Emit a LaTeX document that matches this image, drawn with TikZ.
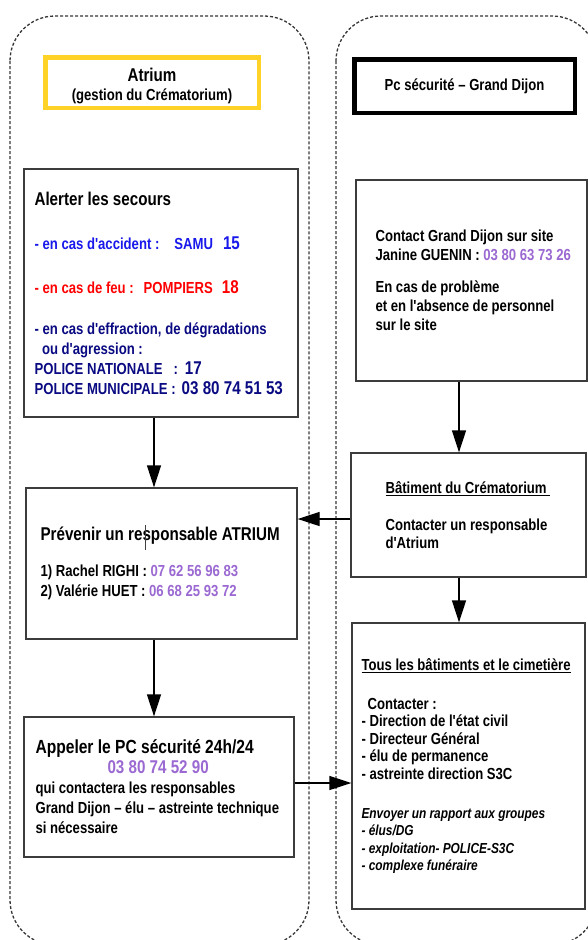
\documentclass[tikz,border=0pt]{standalone}
\usepackage{fontspec}
\setmainfont{Liberation Sans}[FakeStretch=0.82, Ligatures=TeXOff]
\usetikzlibrary{arrows.meta}
\definecolor{blu}{RGB}{25,25,235}
\definecolor{nav}{RGB}{10,10,130}
\definecolor{pur}{RGB}{155,105,210}
\definecolor{yel}{RGB}{255,210,40}
\definecolor{bord}{RGB}{60,60,60}
\definecolor{dsh}{RGB}{55,55,55}
\newcommand{\fsz}[2]{\fontsize{#1}{#2}\selectfont}
\begin{document}
\begin{tikzpicture}[x=1pt,y=-1pt,
  container/.style={draw=dsh, line width=1.3pt, dash pattern=on 3pt off 2pt, rounded corners=45pt},
  box/.style={draw=bord, line width=1.3pt, inner sep=0pt, fill=white},
  txt/.style={inner sep=0pt, align=left, anchor=west, font=\bfseries\fsz{16}{20}},
  arr/.style={line width=1.3pt, draw=black, -{Triangle[length=22pt,width=14pt]}}]
\useasboundingbox (0,0) rectangle (588,940);
\clip (0,0) rectangle (588,940);
\fill[white] (0,0) rectangle (588,940);
\draw[container] (10,16) rectangle (309,945);
\draw[container] (336,16) rectangle (597,945);

% header boxes
\node[draw=yel, line width=4.5pt, minimum width=213.5pt, minimum height=50.5pt, inner sep=0pt] (atrium) at (152,82.5) {};
\node[inner sep=0pt, align=center, font=\bfseries\fsz{18.5}{20}] (tatrium) at ([yshift=-3pt]atrium.center)
      {Atrium\\[-1pt]{\fsz{16}{20}(gestion du Crématorium)}};
\node[draw=black, line width=4.5pt, minimum width=220.5pt, minimum height=53.5pt, inner sep=0pt,
      font=\bfseries\fsz{16}{20}] (pc) at (464.5,86) {Pc sécurité – Grand Dijon};

% boxes
\node[box, minimum width=274pt, minimum height=248pt] (alert) at (161,293) {};
\node[box, minimum width=231pt, minimum height=201pt] (contact) at (471.5,280.5) {};
\node[box, minimum width=271pt, minimum height=151pt] (prev) at (161.5,563.5) {};
\node[box, minimum width=235pt, minimum height=124pt] (bat) at (468.5,515) {};
\node[box, minimum width=270pt, minimum height=140pt] (appel) at (159,787) {};
\node[box, minimum width=233pt, minimum height=286pt] (tous) at (468.5,766) {};

% texts
\node[txt] (talert) at ([xshift=11pt]alert.west) {%
  {\fsz{18.5}{20}Alerter les secours}\\[24pt]
  \textcolor{blu}{- en cas d'accident :\hspace{15pt}SAMU\hspace{10pt}{\fsz{18.5}{20}15}}\\[24pt]
  \textcolor{red}{- en cas de feu :\hspace{10pt}POMPIERS\hspace{9pt}{\fsz{18.5}{20}18}}\\[21pt]
  \textcolor{nav}{- en cas d'effraction, de dégradations}\\
  \textcolor{nav}{\hspace*{7.5pt}ou d'agression :}\\
  \textcolor{nav}{POLICE NATIONALE\hspace{11pt}:\hspace{7pt}{\fsz{18.5}{20}17}}\\
  \textcolor{nav}{POLICE MUNICIPALE :\hspace{6pt}{\fsz{18.5}{20}03 80 74 51 53}}};

\node[txt, font=\bfseries\fsz{16}{19}] (tcontact) at ([xshift=20pt]contact.west) {%
  Contact Grand Dijon sur site\\
  Janine GUENIN : \textcolor{pur}{03 80 63 73 26}\\[13pt]
  En cas de problème\\
  et en l'absence de personnel\\
  sur le site};

\node[txt] (tprev) at ([xshift=15pt]prev.west) {%
  {\fsz{18.5}{20}Prévenir un responsable ATRIUM}\\[16pt]
  1) Rachel RIGHI : \textcolor{pur}{07 62 56 96 83}\\
  2) Valérie HUET : \textcolor{pur}{06 68 25 93 72}};
\draw[line width=0.7pt, black!75] (145,525) -- (145,550);

\node[txt, font=\bfseries\fsz{16}{18}] (tbat) at ([xshift=35pt]bat.west) {%
  \underline{Bâtiment du Crématorium\ }\\[19pt]
  Contacter un responsable\\
  d'Atrium};

\node[txt] (tappel) at ([xshift=12pt]appel.west) {%
  {\fsz{19}{20}Appeler le PC sécurité 24h/24}\\
  \hspace*{72pt}\textcolor{pur}{\fsz{18.5}{20}03 80 74 52 90}\\
  qui contactera les responsables\\
  Grand Dijon – élu – astreinte technique\\
  si nécessaire};

\node[txt, font=\bfseries\fsz{16}{17.5}] (ttous) at ([xshift=10pt]tous.west) {%
  \underline{Tous les bâtiments et le cimetière}\\[21.5pt]
  \hspace*{6pt}Contacter :\\
  - Direction de l'état civil\\
  - Directeur Général\\
  - élu de permanence\\
  - astreinte direction S3C\\[21.5pt]
  {\itshape\fsz{14.5}{17.5}Envoyer un rapport aux groupes}\\
  {\itshape\fsz{14.5}{17.5}- élus/DG}\\
  {\itshape\fsz{14.5}{17.5}- exploitation- POLICE-S3C}\\
  {\itshape\fsz{14.5}{17.5}- complexe funéraire}};

% connectors
\draw[arr] ([xshift=-7pt]alert.south) -- ([xshift=-7pt]alert.south |- prev.north);
\draw[arr] ([xshift=-7.5pt]prev.south) -- ([xshift=-7.5pt]prev.south |- appel.north);
\draw[arr] ([xshift=-12.5pt]contact.south) -- ([xshift=-12.5pt]contact.south |- bat.north);
\draw[arr] ([xshift=-9.5pt]bat.south) -- ([xshift=-9.5pt]bat.south |- tous.north);
\draw[arr] ([yshift=-4pt]bat.west) -- ([yshift=-4pt]bat.west -| prev.east);
\draw[arr] ([yshift=4pt]appel.east) -- ([yshift=4pt]appel.east -| tous.west);
\end{tikzpicture}
\end{document}
